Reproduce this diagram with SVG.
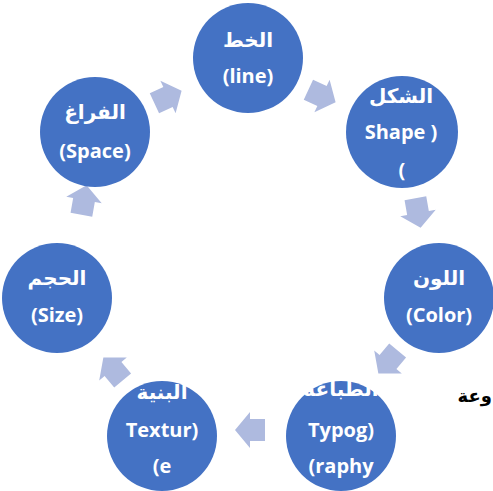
<svg xmlns="http://www.w3.org/2000/svg" width="493" height="491" viewBox="0 0 493 491">
<style>
.node circle{fill:#4472C4;}
.node text{fill:#fff;font-family:"Open Sans","DejaVu Sans",sans-serif;font-weight:bold;font-size:20px;text-anchor:middle;}
.arr{fill:#AEBADF;}
.side{fill:#000;font-family:"DejaVu Sans",sans-serif;font-weight:bold;font-size:18px;}
</style>
<defs>
<path id="ar" d="M-15,-11 H0 V-18 L15,0 L0,18 V11 H-15 Z"/>
</defs>
<rect width="493" height="491" fill="#fff"/>
<g id="connectors">
<use href="#ar" class="arr" transform="translate(322,96) rotate(25)"/>
<use href="#ar" class="arr" transform="translate(418,213) rotate(80)"/>
<use href="#ar" class="arr" transform="translate(388,362) rotate(130)"/>
<use href="#ar" class="arr" transform="translate(250,430) rotate(180)"/>
<use href="#ar" class="arr" transform="translate(113,369) rotate(230)"/>
<use href="#ar" class="arr" transform="translate(84,200) rotate(280)"/>
<use href="#ar" class="arr" transform="translate(168,97) rotate(335)"/>
</g>
<g id="n-line" class="node"><circle cx="248" cy="58" r="55"/><text x="248" y="47">الخط</text><text x="248" y="83">(line)</text></g>
<g id="n-shape" class="node"><circle cx="402" cy="132" r="56"/><text x="401" y="103">الشكل</text><text x="401" y="139">Shape )</text><text x="402" y="177">(</text></g>
<g id="n-color" class="node"><circle cx="439" cy="298" r="55"/><text x="439" y="285">اللون</text><text x="439" y="322">(Color)</text></g>
<g id="n-typo" class="node"><circle cx="341" cy="436" r="55"/><text x="341" y="396">الطباعه</text><text x="341" y="437">Typog)</text><text x="341" y="473">(raphy</text></g>
<g id="n-texture" class="node"><circle cx="162" cy="436" r="55"/><text x="162" y="399">البنية</text><text x="162" y="437">Textur)</text><text x="162" y="473">(e</text></g>
<g id="n-size" class="node"><circle cx="57" cy="298" r="55"/><text x="57" y="285">الحجم</text><text x="57" y="322">(Size)</text></g>
<g id="n-space" class="node"><circle cx="95" cy="132" r="55"/><text x="95" y="119">الفراغ</text><text x="95" y="158">(Space)</text></g>
<text class="side" x="492" y="402" text-anchor="end">وعة</text>
</svg>
